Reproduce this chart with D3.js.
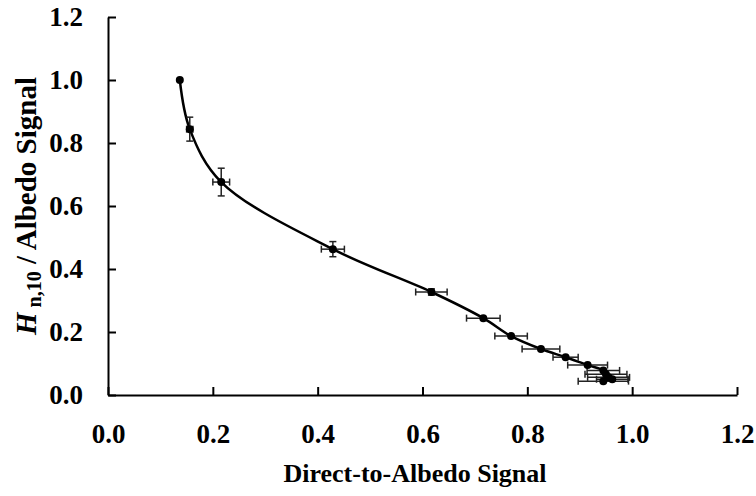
<!DOCTYPE html>
<html>
<head>
<meta charset="utf-8">
<script src="https://cdn.jsdelivr.net/npm/d3@7"></script>
<style>
  body { margin: 0; background: #fff; }
  text { font-family: "Liberation Serif", "Times New Roman", serif; font-weight: bold; }
</style>
</head>
<body>
<script>
// data
const xVals = [0.137, 0.156, 0.216, 0.429, 0.617, 0.716, 0.769, 0.826, 0.873, 0.915, 0.945, 0.950, 0.955, 0.962, 0.945];
const yVals = [1.000, 0.844, 0.676, 0.463, 0.327, 0.244, 0.187, 0.146, 0.120, 0.095, 0.078, 0.066, 0.056, 0.050, 0.044];
const xErr  = [0.000, 0.006, 0.016, 0.022, 0.030, 0.032, 0.031, 0.036, 0.024, 0.038, 0.031, 0.040, 0.040, 0.030, 0.048];
const yErr  = [0.000, 0.038, 0.044, 0.024, 0.010, 0.006, 0.005, 0.005, 0.004, 0.004, 0.004, 0.004, 0.004, 0.004, 0.004];
const tickVals = [0, 0.2, 0.4, 0.6, 0.8, 1.0, 1.2];

const width = 756, height = 496;
const plot = {left: 108, right: 737, top: 17, bottom: 395};

let svg = d3.select("body").append("svg")
        .attr("width", width)
        .attr("height", height);

let x = d3.scaleLinear().domain([0, 1.2]).range([plot.left, plot.right]);
let y = d3.scaleLinear().domain([0, 1.2]).range([plot.bottom, plot.top]);

let points = xVals.map((v, i) => ({x: v, y: yVals[i], ex: xErr[i], ey: yErr[i]}));

// axes, ticks pointing inward
let xAxis = svg.append("g")
  .attr("transform", "translate(0," + plot.bottom + ")")
  .call(d3.axisBottom(x).tickValues(tickVals).tickSizeInner(-8).tickSizeOuter(0)
        .tickPadding(29).tickFormat(d3.format(".1f")));
let yAxis = svg.append("g")
  .attr("transform", "translate(" + plot.left + ",0)")
  .call(d3.axisLeft(y).tickValues(tickVals).tickSizeInner(-8).tickSizeOuter(0)
        .tickPadding(25).tickFormat(d3.format(".1f")));

[xAxis, yAxis].forEach(a => {
  a.select(".domain").attr("stroke", "#000").attr("stroke-width", 2);
  a.selectAll(".tick line").attr("stroke", "#000").attr("stroke-width", 2);
  a.selectAll(".tick text").attr("fill", "#000").attr("font-size", 27);
});

// smooth line through the points
let line = d3.line().x(d => x(d.x)).y(d => y(d.y)).curve(d3.curveCatmullRom.alpha(0.5));
svg.append("path")
  .datum(points)
  .attr("d", line)
  .attr("fill", "none")
  .attr("stroke", "#000")
  .attr("stroke-width", 2.5);

// error bars
const cap = 3.5;
let eb = svg.append("g").attr("stroke", "#222").attr("stroke-width", 1.5).attr("fill", "none");
points.forEach(d => {
  if (d.ex > 0) {
    eb.append("line").attr("x1", x(d.x - d.ex)).attr("x2", x(d.x + d.ex)).attr("y1", y(d.y)).attr("y2", y(d.y));
    eb.append("line").attr("x1", x(d.x - d.ex)).attr("x2", x(d.x - d.ex)).attr("y1", y(d.y) - cap).attr("y2", y(d.y) + cap);
    eb.append("line").attr("x1", x(d.x + d.ex)).attr("x2", x(d.x + d.ex)).attr("y1", y(d.y) - cap).attr("y2", y(d.y) + cap);
  }
  if (d.ey > 0.006) {
    eb.append("line").attr("x1", x(d.x)).attr("x2", x(d.x)).attr("y1", y(d.y - d.ey)).attr("y2", y(d.y + d.ey));
    eb.append("line").attr("x1", x(d.x) - cap).attr("x2", x(d.x) + cap).attr("y1", y(d.y - d.ey)).attr("y2", y(d.y - d.ey));
    eb.append("line").attr("x1", x(d.x) - cap).attr("x2", x(d.x) + cap).attr("y1", y(d.y + d.ey)).attr("y2", y(d.y + d.ey));
  }
});

svg.append("g").selectAll("circle")
  .data(points)
  .join("circle")
  .attr("cx", d => x(d.x))
  .attr("cy", d => y(d.y))
  .attr("r", 4)
  .attr("fill", "#000");

// axis titles
svg.append("text")
  .attr("x", 415)
  .attr("y", 482)
  .attr("text-anchor", "middle")
  .attr("font-size", 26)
  .text("Direct-to-Albedo Signal");

let yTitle = svg.append("text")
  .attr("transform", "translate(36," + ((plot.top + plot.bottom) / 2) + ") rotate(-90)")
  .attr("text-anchor", "middle")
  .attr("font-size", 29);
yTitle.append("tspan").attr("font-style", "italic").text("H");
yTitle.append("tspan").attr("font-size", 20).attr("dy", 5).text(" n,10");
yTitle.append("tspan").attr("dy", -5).text(" / Albedo Signal");
</script>
</body>
</html>
